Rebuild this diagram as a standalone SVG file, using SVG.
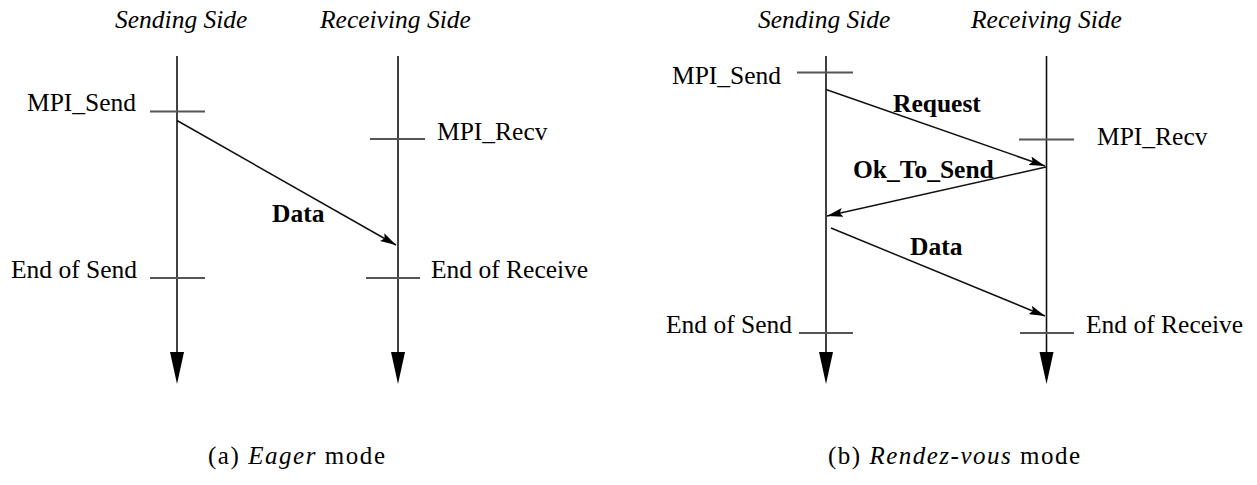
<svg xmlns="http://www.w3.org/2000/svg" width="1257" height="485" viewBox="0 0 1257 485">
<defs>
<marker id="ah" viewBox="0 0 16 9" refX="16" refY="4.5" markerWidth="16" markerHeight="9" markerUnits="userSpaceOnUse" orient="auto">
<path d="M0,0 L16,4.5 L0,9 L3,4.5 Z" fill="#000"/>
</marker>
</defs>
<style>
.life{stroke:#111;stroke-width:1.6;fill:none}
.tick{stroke:#555;stroke-width:2}
.msg{stroke:#111;stroke-width:1.5;fill:none;marker-end:url(#ah)}
</style>
<rect width="1257" height="485" fill="#fff"/>

<g id="a-send">
<text font-family="Liberation Serif" font-size="25.5" font-style="italic" x="115" y="28">Sending Side</text>
<line class="life" x1="177" y1="56" x2="177" y2="354"/>
<polygon points="170,352 184,352 177,384" fill="#000"/>
<line class="tick" x1="150" y1="111.5" x2="205" y2="111.5"/>
<text font-family="Liberation Serif" font-size="25.5" x="27" y="111">MPI_Send</text>
<line class="tick" x1="150" y1="278" x2="205" y2="278"/>
<text font-family="Liberation Serif" font-size="25.5" x="11" y="278">End of Send</text>
</g>

<g id="a-recv">
<text font-family="Liberation Serif" font-size="25.5" font-style="italic" x="320" y="28">Receiving Side</text>
<line class="life" x1="398" y1="56" x2="398" y2="354"/>
<polygon points="391,352 405,352 398,384" fill="#000"/>
<line class="tick" x1="370" y1="139" x2="425" y2="139"/>
<text font-family="Liberation Serif" font-size="25.5" x="437" y="140">MPI_Recv</text>
<line class="tick" x1="366" y1="278" x2="420" y2="278"/>
<text font-family="Liberation Serif" font-size="25.5" x="431" y="278">End of Receive</text>
</g>

<g id="b-send">
<text font-family="Liberation Serif" font-size="25.5" font-style="italic" x="758" y="28">Sending Side</text>
<line class="life" x1="826" y1="56" x2="826" y2="354"/>
<polygon points="819,352 833,352 826,384" fill="#000"/>
<line class="tick" x1="797" y1="72.5" x2="853" y2="72.5"/>
<text font-family="Liberation Serif" font-size="25.5" x="672" y="84">MPI_Send</text>
<line class="tick" x1="799" y1="333" x2="853" y2="333"/>
<text font-family="Liberation Serif" font-size="25.5" x="666" y="333">End of Send</text>
</g>

<g id="b-recv">
<text font-family="Liberation Serif" font-size="25.5" font-style="italic" x="971" y="28">Receiving Side</text>
<line class="life" x1="1046.5" y1="56" x2="1046.5" y2="354"/>
<polygon points="1039.5,352 1053.5,352 1046.5,384" fill="#000"/>
<line class="tick" x1="1019" y1="139.5" x2="1074" y2="139.5"/>
<text font-family="Liberation Serif" font-size="25.5" x="1097" y="145">MPI_Recv</text>
<line class="tick" x1="1020" y1="333" x2="1074" y2="333"/>
<text font-family="Liberation Serif" font-size="25.5" x="1086" y="333">End of Receive</text>
</g>

<g id="connectors">
<line class="msg" x1="177" y1="120.5" x2="396" y2="245"/>
<text font-family="Liberation Serif" font-size="25.5" font-weight="bold" x="272" y="222">Data</text>
<line class="msg" x1="826" y1="89.5" x2="1045" y2="166"/>
<text font-family="Liberation Serif" font-size="25.5" font-weight="bold" x="893" y="112">Request</text>
<line class="msg" x1="1046" y1="167" x2="827" y2="216"/>
<text font-family="Liberation Serif" font-size="25.5" font-weight="bold" x="853" y="178">Ok_To_Send</text>
<line class="msg" x1="831" y1="228" x2="1045" y2="316"/>
<text font-family="Liberation Serif" font-size="25.5" font-weight="bold" x="910" y="255">Data</text>
</g>

<g id="captions">
<text font-family="Liberation Serif" font-size="25" x="208" y="464" textLength="177" lengthAdjust="spacing">(a) <tspan font-style="italic">Eager</tspan> mode</text>
<text font-family="Liberation Serif" font-size="25" x="828" y="464" textLength="252" lengthAdjust="spacing">(b) <tspan font-style="italic">Rendez-vous</tspan> mode</text>
</g>
</svg>
